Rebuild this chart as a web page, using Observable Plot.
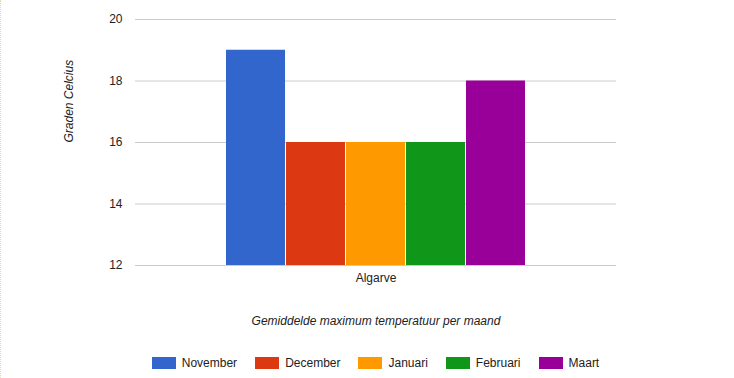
<!DOCTYPE html>
<html>
<head>
<meta charset="utf-8">
<script src="https://cdn.jsdelivr.net/npm/d3@7"></script>
<script src="https://cdn.jsdelivr.net/npm/@observablehq/plot@0.6"></script>
<style>
  html, body { margin: 0; padding: 0; background: #fff; }
  body { width: 734px; height: 378px; overflow: hidden; position: relative; font-family: "Liberation Sans", Arial, sans-serif; }
  #edge { position: absolute; left: 0; top: 0; width: 0; height: 378px; border-left: 1px dotted #e2dcb4; }
  #legend { display: flex; justify-content: center; align-items: center; margin-left: 135px; width: 481px; height: 38px; padding-top: 8px; box-sizing: border-box; font-size: 12px; color: #222; }
  .item { display: flex; align-items: center; margin: 0 9px; }
  .sw { width: 24px; height: 12px; margin-right: 6px; }
</style>
</head>
<body>
<div id="edge"></div>
<div id="chart"></div>
<div id="legend"></div>
<script>
const category = "Algarve";
const months = ["November", "December", "Januari", "Februari", "Maart"];
const temps = [19, 16, 16, 16, 18];
const colors = ["#3366cc", "#dc3912", "#ff9900", "#109618", "#990099"];
const yTicks = [12, 14, 16, 18, 20];
const yTitle = "Graden Celcius";
const xTitle = "Gemiddelde maximum temperatuur per maand";

const data = months.map((m, i) => ({month: m, temp: temps[i], region: category}));

const chart = Plot.plot({
  width: 734,
  height: 340,
  marginLeft: 135,
  marginRight: 118,
  marginTop: 19,
  marginBottom: 75,
  style: {fontFamily: "'Liberation Sans', Arial, sans-serif", fontSize: "12px", color: "#222", background: "#fff"},
  x: {domain: months, paddingInner: 0.017, paddingOuter: 1.5, axis: null},
  y: {domain: [yTicks[0], yTicks[yTicks.length - 1]], ticks: yTicks, tickSize: 0, tickPadding: 13, label: null},
  color: {domain: months, range: colors},
  marks: [
    Plot.ruleY(yTicks, {stroke: "#cccccc", strokeWidth: 1}),
    Plot.barY(data, {x: "month", y1: () => yTicks[0], y2: "temp", fill: "month"}),
    Plot.axisY({ticks: yTicks, tickSize: 0, tickPadding: 13, label: null, fill: "#222", fontSize: 12}),
    Plot.text([category], {frameAnchor: "bottom", lineAnchor: "middle", dy: 13, fill: "#222", fontSize: 12}),
    Plot.text([xTitle], {frameAnchor: "bottom", lineAnchor: "middle", dy: 56, fill: "#222", fontSize: 12, fontStyle: "italic"}),
    Plot.text([yTitle], {frameAnchor: "left", lineAnchor: "middle", rotate: -90, dx: -66, fill: "#222", fontSize: 12, fontStyle: "italic"})
  ]
});
document.getElementById("chart").appendChild(chart);

const legend = document.getElementById("legend");
months.forEach((m, i) => {
  const item = document.createElement("div");
  item.className = "item";
  const sw = document.createElement("div");
  sw.className = "sw";
  sw.style.background = colors[i];
  const lab = document.createElement("span");
  lab.textContent = m;
  item.appendChild(sw);
  item.appendChild(lab);
  legend.appendChild(item);
});
</script>
</body>
</html>
